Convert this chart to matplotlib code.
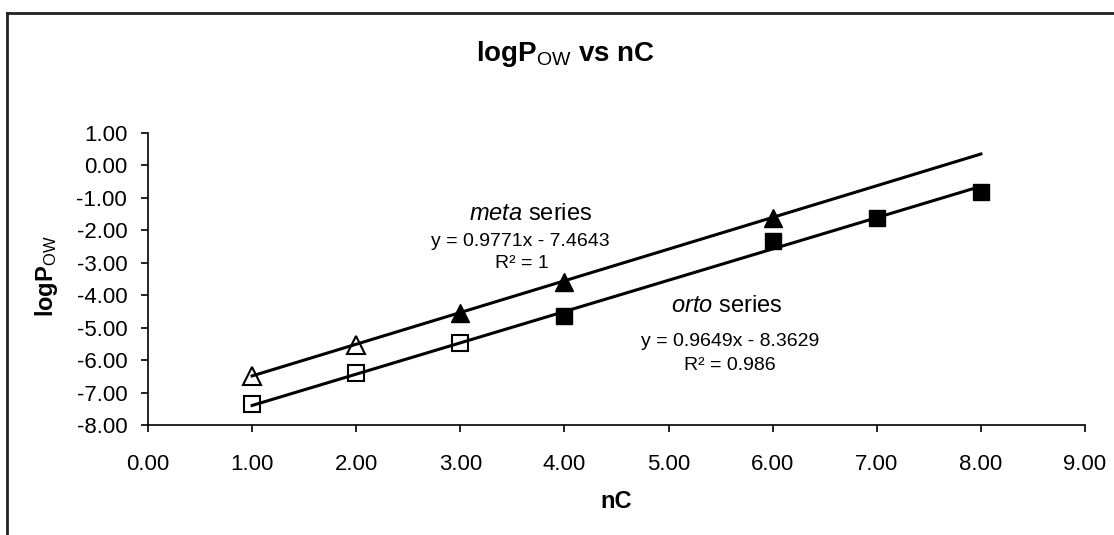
import numpy as np
import matplotlib
matplotlib.use("Agg")
from matplotlib import pyplot as plt
from matplotlib.lines import Line2D

plt.rcParams['font.family'] = ['Liberation Sans', 'DejaVu Sans']
plt.rcParams['mathtext.fontset'] = 'custom'
plt.rcParams['mathtext.rm'] = 'Liberation Sans'
plt.rcParams['mathtext.it'] = 'Liberation Sans:italic'
plt.rcParams['mathtext.bf'] = 'Liberation Sans:bold'

# data
nc_meta = [1, 2, 3, 4, 6]
logp_meta = [-6.49, -5.52, -4.55, -3.58, -1.62]
n_open_meta = 2          # first points drawn hollow

nc_orto = [1, 2, 3, 4, 6, 7, 8]
logp_orto = [-7.34, -6.40, -5.47, -4.65, -2.32, -1.62, -0.82]
n_open_orto = 3

# trendlines (slope, intercept) as printed on the chart
meta_fit = (0.9771, -7.4643)
orto_fit = (0.9649, -8.3629)
fit_range = [1, 8]

xticks = np.arange(0, 10, 1)
yticks = np.arange(-8, 2, 1)

fig = plt.figure(figsize=(11.14, 5.35), dpi=100)
ax = fig.add_axes([148/1114, 1-425/535, 937/1114, 292/535])

# markers
ax.plot(nc_meta[:n_open_meta], logp_meta[:n_open_meta], ls='none', marker='^', ms=13,
        mfc='white', mec='black', mew=1.5, zorder=2)
ax.plot(nc_meta[n_open_meta:], logp_meta[n_open_meta:], ls='none', marker='^', ms=13,
        mfc='black', mec='black', zorder=2)
ax.plot(nc_orto[:n_open_orto], logp_orto[:n_open_orto], ls='none', marker='s', ms=11.5,
        mfc='white', mec='black', mew=1.5, zorder=2)
ax.plot(nc_orto[n_open_orto:], logp_orto[n_open_orto:], ls='none', marker='s', ms=11.5,
        mfc='black', mec='black', zorder=2)

# trendlines
xf = np.array(fit_range)
ax.plot(xf, meta_fit[0]*xf + meta_fit[1], color='black', lw=2.2, zorder=3)
ax.plot(xf, orto_fit[0]*xf + orto_fit[1], color='black', lw=2.2, zorder=3)

ax.set_xlim(0, 9)
ax.set_ylim(-8, 1)
ax.set_xticks(xticks)
ax.set_yticks(yticks)
ax.set_xticklabels(['%.2f' % v for v in xticks])
ax.set_yticklabels(['%.2f' % v for v in yticks])
ax.tick_params(axis='x', labelsize=16, length=5, width=1.2, pad=16, direction='out')
ax.tick_params(axis='y', labelsize=16, length=5, width=1.2, pad=10, direction='out')
for s in ['top', 'right']:
    ax.spines[s].set_visible(False)
for s in ['left', 'bottom']:
    ax.spines[s].set_linewidth(1.2)

ax.set_xlabel('nC', fontsize=17, fontweight='bold')
ax.xaxis.label.set_va('center')
ax.xaxis.set_label_coords(0.5, (425-501)/292)
ax.set_ylabel(r'logP$_{\mathrm{OW}}$', fontsize=17, fontweight='bold')
ax.yaxis.label.set_va('center')
ax.yaxis.set_label_coords((47-148)/937, (425-276)/292)

fig.text(566/1114, 1-54/535, r'logP$_{\mathrm{OW}}$ vs nC', fontsize=20, fontweight='bold',
         ha='center', va='center')

# annotations
ax.text(3.67, -1.50, r'$\mathit{meta}$ series', fontsize=17, ha='center', va='center')
ax.text(3.58, -2.33, 'y = 0.9771x - 7.4643', fontsize=14, ha='center', va='center')
ax.text(3.59, -3.01, 'R² = 1', fontsize=14, ha='center', va='center')
ax.text(5.56, -4.33, r'$\mathit{orto}$ series', fontsize=17, ha='center', va='center')
ax.text(5.59, -5.44, 'y = 0.9649x - 8.3629', fontsize=14, ha='center', va='center')
ax.text(5.59, -6.18, 'R² = 0.986', fontsize=14, ha='center', va='center')

# chart area border (only left and top visible)
bx, by = 7/1114, 1-13/535
fig.add_artist(Line2D([bx, bx], [0, by], transform=fig.transFigure, color='#222222', lw=2))
fig.add_artist(Line2D([bx, 1], [by, by], transform=fig.transFigure, color='#222222', lw=2))

fig.savefig('out.png', dpi=100)
